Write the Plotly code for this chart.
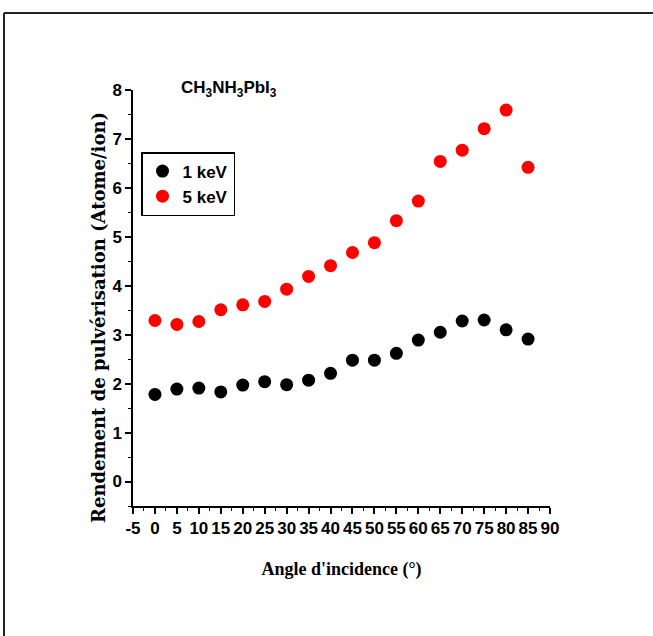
import plotly.graph_objects as go

angles = [0, 5, 10, 15, 20, 25, 30, 35, 40, 45, 50, 55, 60, 65, 70, 75, 80, 85]
yield_1kev = [1.78, 1.89, 1.91, 1.83, 1.97, 2.04, 1.98, 2.07, 2.21, 2.48, 2.48, 2.62,
              2.89, 3.05, 3.28, 3.30, 3.10, 2.91]
yield_5kev = [3.29, 3.21, 3.27, 3.51, 3.61, 3.68, 3.93, 4.19, 4.41, 4.68, 4.88, 5.33,
              5.73, 6.54, 6.77, 7.21, 7.59, 6.42]
x_ticks = list(range(-5, 95, 5))
y_ticks = list(range(0, 9))

narrow = "Liberation Sans Narrow, Arial Narrow, Liberation Sans, Arial, sans-serif"
serif = "Liberation Serif, Times New Roman, serif"
wide_serif = "DejaVu Serif, Liberation Serif, serif"

fig = go.Figure()
fig.add_trace(go.Scatter(x=angles, y=yield_1kev, mode="markers", name="1 keV",
                         marker=dict(color="black", size=13, line=dict(width=0))))
fig.add_trace(go.Scatter(x=angles, y=yield_5kev, mode="markers", name="5 keV",
                         marker=dict(color="#ff0000", size=13, line=dict(width=0))))

W, H = 653, 636
L, R, T, B = 133, 103, 90, 130
pw, ph = W - L - R, H - T - B

def px_x(p):
    return (p - L) / pw

def px_y(p):
    return (H - B - p) / ph

fig.update_layout(
    width=W, height=H,
    margin=dict(l=L, r=R, t=T, b=B),
    paper_bgcolor="white", plot_bgcolor="white",
    showlegend=True,
    legend=dict(x=px_x(141), y=px_y(152), xanchor="left", yanchor="top",
                bordercolor="black", borderwidth=1.5, bgcolor="white",
                font=dict(family=narrow, size=17, color="black", weight="bold"),
                itemwidth=30, tracegroupgap=2),
    xaxis=dict(range=[-5, 90], tickmode="array", tickvals=x_ticks,
               ticktext=[str(v) for v in x_ticks],
               showgrid=False, zeroline=False, showline=True, linecolor="black", linewidth=1.5,
               ticks="outside", ticklen=6, tickwidth=1.5, tickcolor="black",
               minor=dict(ticks="outside", ticklen=3, tickwidth=1, tickcolor="black", dtick=2.5, showgrid=False),
               tickfont=dict(family=narrow, size=17, color="black", weight="bold"),
               title=dict(text="Angle d'incidence (°)",
                          font=dict(family=serif, size=18, color="black", weight="bold"), standoff=25)),
    yaxis=dict(range=[-0.5, 8], tickmode="array", tickvals=y_ticks,
               ticktext=[str(v) for v in y_ticks],
               showgrid=False, zeroline=False, showline=True, linecolor="black", linewidth=1.5,
               ticks="outside", ticklen=6, tickwidth=1.5, tickcolor="black",
               minor=dict(ticks="outside", ticklen=3, tickwidth=1, tickcolor="black", dtick=0.5, showgrid=False),
               tickfont=dict(family=narrow, size=17, color="black", weight="bold")),
    annotations=[
        dict(text="CH<sub>3</sub>NH<sub>3</sub>PbI<sub>3</sub>", xref="paper", yref="paper",
             x=px_x(179), y=px_y(76), xanchor="left", yanchor="top", showarrow=False,
             font=dict(family=narrow, size=17, color="black", weight="bold")),
        dict(text="Rendement de pulvérisation (Atome/ion)", xref="paper", yref="paper",
             x=px_x(98), y=px_y(318), xanchor="center", yanchor="middle", showarrow=False,
             textangle=-90,
             font=dict(family=wide_serif, size=18, color="black", weight="bold")),
    ],
    shapes=[
        dict(type="line", xref="paper", yref="paper", x0=px_x(4), x1=px_x(653), y0=px_y(13), y1=px_y(13),
             line=dict(color="#222", width=2)),
        dict(type="line", xref="paper", yref="paper", x0=px_x(4), x1=px_x(4), y0=px_y(13), y1=px_y(636),
             line=dict(color="#222", width=2)),
    ],
)

fig.write_html("out.html")
